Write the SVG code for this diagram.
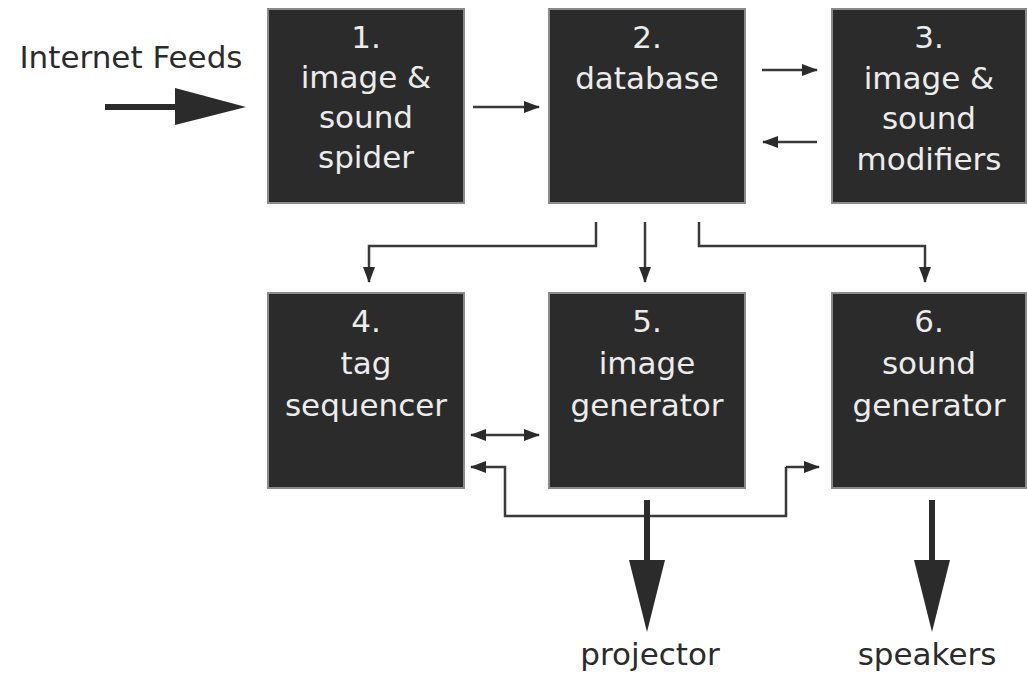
<svg xmlns="http://www.w3.org/2000/svg" width="1027" height="675" viewBox="0 0 1027 675">
<style>
.box{fill:#2b2b2b;stroke:#8a8a8a;stroke-width:2}
.bt{font-family:"DejaVu Sans",sans-serif;font-size:31px;fill:#ececec;text-anchor:middle}
.lt{font-family:"DejaVu Sans",sans-serif;font-size:31px;fill:#2b2b2b;text-anchor:middle}
.thin{fill:none;stroke:#3a3a3a;stroke-width:2.5}
</style>
<defs>
<marker id="ah" markerWidth="16" markerHeight="12" refX="15" refY="6" orient="auto" markerUnits="userSpaceOnUse">
<path d="M0,0 L16,6 L0,12 Z" fill="#2b2b2b"/>
</marker>
<marker id="ahs" markerWidth="16" markerHeight="12" refX="1" refY="6" orient="auto" markerUnits="userSpaceOnUse">
<path d="M16,0 L0,6 L16,12 Z" fill="#2b2b2b"/>
</marker>
</defs>
<rect width="1027" height="675" fill="#ffffff"/>
<g id="node1"><rect class="box" x="268" y="9" width="196" height="194"/>
<text class="bt" x="366" y="48">1.</text><text class="bt" x="366" y="88">image &amp;</text><text class="bt" x="366" y="128">sound</text><text class="bt" x="366" y="168">spider</text></g>
<g id="node2"><rect class="box" x="549" y="9" width="196" height="194"/>
<text class="bt" x="647" y="48">2.</text><text class="bt" x="647" y="89">database</text></g>
<g id="node3"><rect class="box" x="832" y="9" width="194" height="194"/>
<text class="bt" x="929" y="48">3.</text><text class="bt" x="929" y="89">image &amp;</text><text class="bt" x="929" y="129">sound</text><text class="bt" x="929" y="170">modifiers</text></g>
<g id="node4"><rect class="box" x="268" y="293" width="196" height="195"/>
<text class="bt" x="366" y="332">4.</text><text class="bt" x="366" y="374">tag</text><text class="bt" x="366" y="416">sequencer</text></g>
<g id="node5"><rect class="box" x="549" y="293" width="196" height="195"/>
<text class="bt" x="647" y="332">5.</text><text class="bt" x="647" y="374">image</text><text class="bt" x="647" y="416">generator</text></g>
<g id="node6"><rect class="box" x="832" y="293" width="194" height="195"/>
<text class="bt" x="929" y="332">6.</text><text class="bt" x="929" y="374">sound</text><text class="bt" x="929" y="416">generator</text></g>
<g id="labels">
<text class="lt" x="131" y="68">Internet Feeds</text>
<text class="lt" x="650" y="665">projector</text>
<text class="lt" x="927" y="665">speakers</text>
</g>
<g id="connectors">
<line x1="105" y1="107" x2="180" y2="107" stroke="#2b2b2b" stroke-width="6"/>
<path d="M175,88 L246,107 L175,125 Z" fill="#2b2b2b"/>
<line class="thin" x1="473" y1="107" x2="539" y2="107" marker-end="url(#ah)"/>
<line class="thin" x1="762" y1="70" x2="817" y2="70" marker-end="url(#ah)"/>
<line class="thin" x1="817" y1="142" x2="763" y2="142" marker-end="url(#ah)"/>
<polyline class="thin" points="596,222 596,246 369,246 369,282" marker-end="url(#ah)"/>
<line class="thin" x1="645" y1="222" x2="645" y2="282" marker-end="url(#ah)"/>
<polyline class="thin" points="699,222 699,246 925,246 925,282" marker-end="url(#ah)"/>
<line class="thin" x1="471" y1="435" x2="539" y2="435" marker-start="url(#ahs)" marker-end="url(#ah)"/>
<polyline class="thin" points="786,467 786,516 505,516 505,467 471,467" marker-end="url(#ah)"/>
<polyline class="thin" points="786,467 819,467" marker-end="url(#ah)"/>
<line x1="647" y1="500" x2="647" y2="565" stroke="#2b2b2b" stroke-width="6"/>
<path d="M629,560 L665,560 L647,632 Z" fill="#2b2b2b"/>
<line x1="932" y1="500" x2="932" y2="565" stroke="#2b2b2b" stroke-width="6"/>
<path d="M914,560 L950,560 L932,632 Z" fill="#2b2b2b"/>
</g>
</svg>
